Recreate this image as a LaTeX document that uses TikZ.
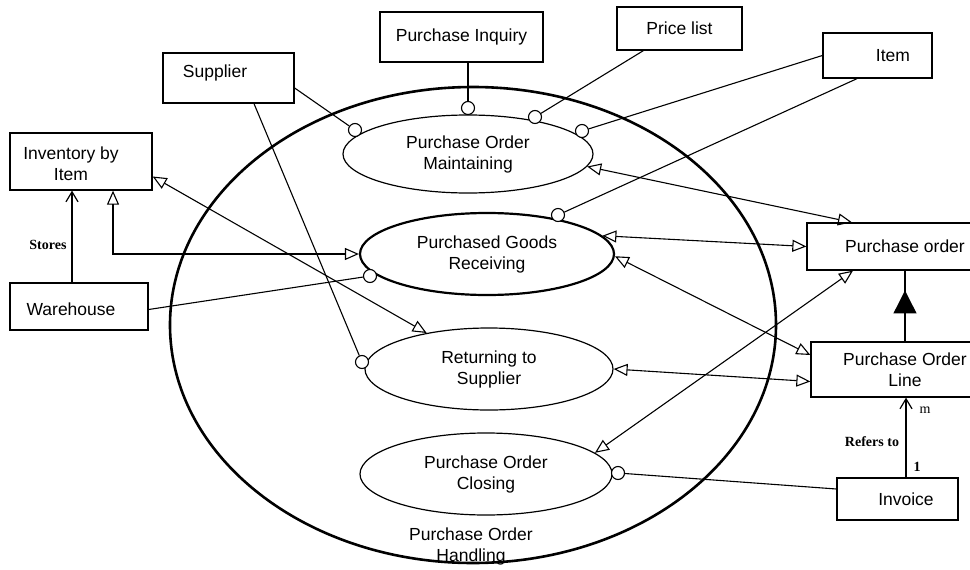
\documentclass[tikz,border=0pt]{standalone}
\usepackage{fontspec}
\setmainfont{Liberation Sans}
\newfontfamily\serifb{Liberation Serif}
\usetikzlibrary{arrows.meta,shapes.geometric,decorations.markings}
\tikzset{
  box/.style={draw, line width=1.3pt, fill=white, inner sep=0pt, align=center},
  uc/.style={draw, ellipse, line width=1.2pt, inner sep=0pt, align=center, fill=white},
  lolli/.style={draw, circle, minimum size=13pt, inner sep=0pt, line width=1.1pt, fill=white},
  txt/.style={inner sep=0pt, align=center},
  conn/.style={line width=1.1pt},
  dbl/.style={conn, {Triangle[open,length=14pt,width=12pt,line width=1.1pt]}-{Triangle[open,length=14pt,width=12pt,line width=1.1pt]}},
  stick/.style={conn, -{Straight Barb[length=10pt,width=12pt,line width=1.2pt]}},
  lbl/.style={inner sep=0pt, font=\serifb\bfseries\fontsize{14pt}{16pt}\selectfont}
}
\begin{document}
\begin{tikzpicture}[x=1pt,y=-1pt,font=\fontsize{17.5pt}{21pt}\selectfont]
\useasboundingbox (0,0) rectangle (970,570);
\clip (0,0) rectangle (970,570);
\fill[white] (0,0) rectangle (970,570);

% system boundary
\node[draw, ellipse, line width=2.6pt, minimum width=606pt, minimum height=476pt, inner sep=0pt] (handling) at (473,325) {};
\node[txt] (handlingtext) at (471,546) {Purchase Order\\Handling};

% use cases
\node[uc, minimum width=250pt, minimum height=78pt] (pom) at (468,154) {Purchase Order\\Maintaining};
\node[uc, line width=2.2pt, minimum width=254pt, minimum height=82pt] (pgr) at (487,254) {Purchased Goods\\Receiving};
\node[uc, minimum width=248pt, minimum height=82pt] (ret) at (489,369) {Returning to\\Supplier};
\node[uc, minimum width=252pt, minimum height=82pt] (poc) at (486,474) {Purchase Order\\Closing};

% boxes
\node[box, minimum width=163pt, minimum height=50pt] (inq) at (461.5,37) {Purchase Inquiry};
\node[box, minimum width=125pt, minimum height=43pt] (pl) at (679.5,28.5) {Price list};
\node[box, minimum width=109pt, minimum height=45pt] (item) at (877.5,55.5) {};
\node[txt] (itemtext) at (893,56) {Item};
\node[box, minimum width=131pt, minimum height=50pt] (sup) at (228.5,78) {};
\node[txt] (suptext) at (215,73) {Supplier};
\node[box, minimum width=142pt, minimum height=57pt] (inv) at (81,161.5) {};
\node[txt] (invtext) at (71,164) {Inventory by\\Item};
\node[box, minimum width=138pt, minimum height=47pt] (wh) at (79,306.5) {};
\node[txt] (whtext) at (71,309) {Warehouse};
\node[box, minimum width=196pt, minimum height=47pt] (po) at (905,246.5) {Purchase order};
\node[box, minimum width=188pt, minimum height=55pt] (pol) at (905,369.5) {Purchase Order\\Line};
\node[box, minimum width=121pt, minimum height=42pt] (invc) at (897.5,499) {};
\node[txt] (invctext) at (906,499) {Invoice};

% lollipop circles
\node[lolli] (c1) at (468,108) {};
\node[lolli] (c2) at (535,117) {};
\node[lolli] (c3) at (582,131) {};
\node[lolli] (c4) at (355,130) {};
\node[lolli] (c5) at (558,215) {};
\node[lolli] (c6) at (370,276) {};
\node[lolli] (c7) at (362,362) {};
\node[lolli] (c8) at (618,473) {};

% lollipop connectors
\draw[conn] (c1) -- (c1 |- inq.south);
\draw[conn] (c2) -- (pl);
\draw[conn] (c3) -- (item.west);
\draw[conn] (c4) -- ([yshift=-10pt]sup.east);
\draw[conn] (c5) -- ([xshift=-20.5pt]item.south);
\draw[conn] (c6) -- ([yshift=-3pt]wh.east);
\draw[conn] (c7) -- ([xshift=25.5pt]sup.south);
\draw[conn] (c8) -- ([yshift=10pt]invc.west);

% open-triangle associations
\draw[dbl] (pom.-6) -- ([xshift=-53pt]po.north);
\draw[dbl] (pgr.9) -- (po.west);
\draw[dbl] (pgr.-1) -- ([yshift=14.5pt]pol.west);
\draw[dbl] (ret.east) -- ([yshift=-12pt]pol.west);
\draw[dbl] (poc.11) -- ([xshift=-52pt]po.south);
\draw[dbl] ([yshift=-15pt]inv.east) -- (ret.150);
\draw[dbl] ([xshift=32pt]inv.south) |- (pgr.west);

% Stores
\coordinate (st) at ([xshift=-7pt]wh.north);
\draw[stick] (st) -- (st |- inv.south);
\node[lbl] (stores) at (48,245) {Stores};

% Refers to
\coordinate (rt) at ([xshift=8.5pt]invc.north);
\draw[stick] (rt) -- (rt |- pol.south);
\node[lbl] (refers) at (872,442) {Refers to};
\node[lbl, font=\serifb\fontsize{14pt}{16pt}\selectfont] (mm) at (925,410) {m};
\node[lbl] (one) at (917,467) {1};

% composition
\draw[conn, postaction={decorate}, decoration={markings, mark=at position 0.72 with {\arrow{Triangle[length=23pt,width=23pt]}}}] (pol.north) -- (po.south);
\end{tikzpicture}
\end{document}
